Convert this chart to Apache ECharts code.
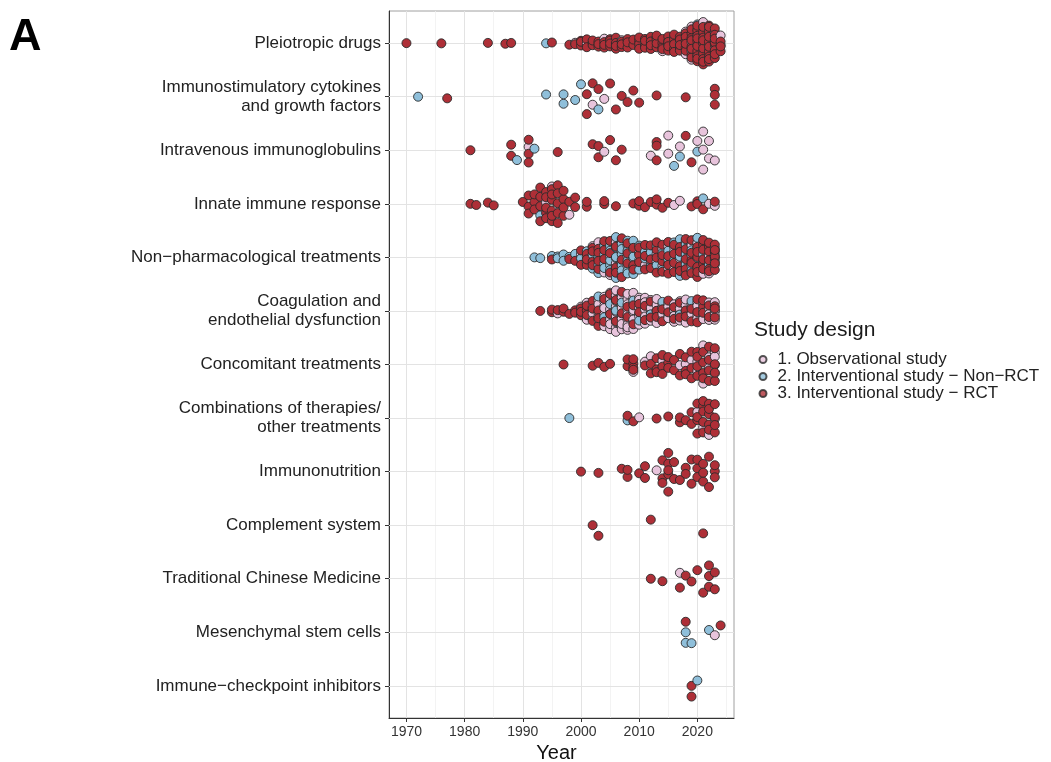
<!DOCTYPE html>
<html>
<head>
<meta charset="utf-8">
<script src="https://cdn.jsdelivr.net/npm/echarts@6/dist/echarts.min.js"></script>
<style>
  html, body { margin: 0; padding: 0; background: #ffffff; }
  #chart { width: 1051px; height: 762px; }
</style>
</head>
<body>
<div id="chart"></div>
<script>
// Intervention categories, top to bottom
const categories = [
  'Pleiotropic drugs',
  'Immunostimulatory cytokines\nand growth factors',
  'Intravenous immunoglobulins',
  'Innate immune response',
  'Non\u2212pharmacological treatments',
  'Coagulation and\nendothelial dysfunction',
  'Concomitant treatments',
  'Combinations of therapies/\nother treatments',
  'Immunonutrition',
  'Complement system',
  'Traditional Chinese Medicine',
  'Mesenchymal stem cells',
  'Immune\u2212checkpoint inhibitors'
];

const designNames = [
  '1. Observational study',
  '2. Interventional study \u2212 Non\u2212RCT',
  '3. Interventional study \u2212 RCT'
];
const designColors = ['#E8C4DC', '#8FBFDA', '#AE2F37'];

// Studies per publication year: [year, number of studies]
const pleiotropicDrugs = {
  obs: [[1999,1],[2001,1],[2004,1],[2007,1],[2010,1],[2011,1],[2013,1],[2014,1],[2015,2],[2016,1],[2017,1],[2018,2],[2019,3],[2020,4],[2021,6],[2022,5],[2023,5],[2024,2]],
  nonRct: [[1994,1],[2019,1],[2020,1]],
  rct: [[1970,1],[1976,1],[1984,1],[1987,1],[1988,1],[1995,1],[1998,1],[1999,1],[2000,3],[2001,2],[2002,3],[2003,3],[2004,3],[2005,4],[2006,4],[2007,3],[2008,3],[2009,2],[2010,4],[2011,4],[2012,5],[2013,4],[2014,4],[2015,4],[2016,5],[2017,5],[2018,6],[2019,8],[2020,10],[2021,10],[2022,10],[2023,8],[2024,3]]
};
const immunostimulatory = {
  obs: [[2002,1],[2004,1]],
  nonRct: [[1972,1],[1994,1],[1997,2],[1999,1],[2000,1],[2003,1]],
  rct: [[1977,1],[2001,2],[2002,1],[2003,1],[2005,1],[2006,1],[2007,1],[2008,1],[2009,1],[2010,1],[2013,1],[2018,1],[2023,3]]
};
const immunoglobulins = {
  obs: [[1991,1],[2004,1],[2012,1],[2015,2],[2017,1],[2020,1],[2021,3],[2022,2],[2023,1]],
  nonRct: [[1989,1],[1992,1],[2016,1],[2017,1],[2020,1]],
  rct: [[1981,1],[1988,2],[1991,3],[1996,1],[2002,1],[2003,2],[2005,1],[2006,1],[2007,1],[2013,3],[2018,1],[2019,1]]
};
const innateImmune = {
  obs: [[1994,1],[1995,1],[1996,1],[1998,1],[2016,1],[2017,1],[2022,1],[2023,1]],
  nonRct: [[1993,1],[2021,1]],
  rct: [[1981,1],[1982,1],[1984,1],[1985,1],[1990,1],[1991,3],[1992,3],[1993,4],[1994,5],[1995,6],[1996,5],[1997,4],[1998,1],[1999,2],[2001,2],[2004,2],[2006,1],[2009,1],[2010,2],[2011,1],[2012,1],[2013,2],[2014,1],[2015,1],[2019,1],[2020,2],[2021,1],[2023,1]]
};
const nonPharmacological = {
  obs: [[2000,1],[2001,1],[2002,1],[2003,2],[2004,2],[2005,2],[2006,2],[2007,2],[2008,2],[2009,1],[2010,2],[2011,1],[2012,2],[2013,2],[2014,3],[2015,3],[2016,3],[2017,3],[2018,3],[2019,3],[2020,3],[2021,3],[2022,2],[2023,3]],
  nonRct: [[1992,1],[1993,1],[1995,1],[1996,2],[1997,2],[1998,1],[1999,1],[2000,1],[2001,2],[2002,2],[2003,3],[2004,4],[2005,5],[2006,6],[2007,7],[2008,6],[2009,5],[2010,2],[2011,2],[2012,2],[2013,2],[2014,2],[2015,2],[2016,2],[2017,3],[2018,3],[2019,2],[2020,2],[2021,1],[2022,1],[2023,1]],
  rct: [[1995,1],[1998,1],[1999,1],[2000,2],[2001,3],[2002,4],[2003,4],[2004,3],[2005,3],[2006,3],[2007,3],[2008,3],[2009,3],[2010,3],[2011,3],[2012,3],[2013,4],[2014,4],[2015,4],[2016,4],[2017,4],[2018,5],[2019,5],[2020,6],[2021,6],[2022,6],[2023,7]]
};
const coagulation = {
  obs: [[1996,1],[2000,1],[2001,2],[2002,3],[2003,5],[2004,7],[2005,8],[2006,9],[2007,9],[2008,9],[2009,8],[2010,6],[2011,5],[2012,4],[2013,4],[2014,4],[2015,4],[2016,4],[2017,4],[2018,4],[2019,4],[2020,4],[2021,4],[2022,4],[2023,5]],
  nonRct: [[2003,1],[2004,1],[2005,1],[2006,1],[2007,1],[2009,1],[2010,1],[2012,1],[2014,1],[2017,1],[2019,1]],
  rct: [[1993,1],[1995,2],[1996,1],[1997,2],[1998,1],[1999,2],[2000,3],[2001,3],[2002,3],[2003,3],[2004,2],[2005,2],[2006,2],[2007,2],[2008,2],[2009,2],[2010,2],[2011,2],[2012,2],[2013,2],[2014,2],[2015,2],[2016,2],[2017,2],[2018,2],[2019,2],[2020,3],[2021,3],[2022,2],[2023,3]]
};
const concomitant = {
  obs: [[2009,1],[2011,1],[2012,1],[2014,1],[2017,1],[2018,1],[2019,1],[2020,2],[2021,2],[2022,2],[2023,4]],
  nonRct: [],
  rct: [[1997,1],[2002,1],[2003,1],[2004,1],[2005,1],[2008,2],[2009,4],[2011,1],[2012,2],[2013,3],[2014,3],[2015,3],[2016,2],[2017,2],[2018,3],[2019,3],[2020,4],[2021,4],[2022,4],[2023,4]]
};
const combinations = {
  obs: [[2010,1],[2020,1],[2021,1],[2022,1],[2023,1]],
  nonRct: [[1998,1],[2008,1]],
  rct: [[2008,1],[2009,1],[2013,1],[2015,1],[2017,2],[2018,1],[2019,2],[2020,4],[2021,5],[2022,5],[2023,4]]
};
const immunonutrition = {
  obs: [[2013,1]],
  nonRct: [],
  rct: [[2000,1],[2003,1],[2007,1],[2008,2],[2010,1],[2011,2],[2014,3],[2015,5],[2016,2],[2017,1],[2018,2],[2019,2],[2020,3],[2021,3],[2022,2],[2023,3]]
};
const complementSystem = {
  obs: [],
  nonRct: [],
  rct: [[2002,1],[2003,1],[2012,1],[2021,1]]
};
const chineseMedicine = {
  obs: [[2017,1]],
  nonRct: [],
  rct: [[2012,1],[2014,1],[2017,1],[2018,1],[2019,1],[2020,1],[2021,1],[2022,3],[2023,2]]
};
const stemCells = {
  obs: [[2023,1]],
  nonRct: [[2018,2],[2019,1],[2022,1]],
  rct: [[2018,1],[2024,1]]
};
const checkpointInhibitors = {
  obs: [],
  nonRct: [[2020,1]],
  rct: [[2019,2]]
};

const groups = [
  pleiotropicDrugs, immunostimulatory, immunoglobulins, innateImmune,
  nonPharmacological, coagulation, concomitant, combinations,
  immunonutrition, complementSystem, chineseMedicine, stemCells, checkpointInhibitors
];

const majorYears = [1970, 1980, 1990, 2000, 2010, 2020];
const minorYears = [1975, 1985, 1995, 2005, 2015, 2025];

// ---- quasirandom (van der Corput) spreading, scaled by a kernel density ----
function expand(pairs) {
  const out = [];
  pairs.forEach(([year, count]) => { for (let k = 0; k < count; k++) out.push(year); });
  return out;
}
function vanDerCorput(n) {
  const out = [];
  for (let i = 1; i <= n; i++) {
    let v = 0, d = 0.5, k = i;
    while (k > 0) { if (k & 1) v += d; k >>= 1; d /= 2; }
    out.push(v);
  }
  return out;
}
function quantile(sorted, p) {
  const h = (sorted.length - 1) * p;
  const lo = Math.floor(h);
  const hi = Math.min(lo + 1, sorted.length - 1);
  return sorted[lo] + (h - lo) * (sorted[hi] - sorted[lo]);
}
function bandwidthNrd0(x) {
  const n = x.length;
  const mean = x.reduce((a, b) => a + b, 0) / n;
  const sd = Math.sqrt(x.reduce((a, b) => a + (b - mean) * (b - mean), 0) / (n - 1));
  const s = x.slice().sort((a, b) => a - b);
  const iqr = quantile(s, 0.75) - quantile(s, 0.25);
  let lo = Math.min(sd, iqr / 1.34);
  if (!lo) lo = sd || Math.abs(x[0]) || 1;
  return 0.9 * lo * Math.pow(n, -0.2);
}
function relativeDensity(x, adjust) {
  const bw = adjust * bandwidthNrd0(x);
  const nGrid = 512;
  const from = Math.min(...x) - 3 * bw, to = Math.max(...x) + 3 * bw;
  const gx = [], gy = [];
  for (let j = 0; j < nGrid; j++) {
    const g = from + (to - from) * j / (nGrid - 1);
    let s = 0;
    x.forEach(v => { const z = (g - v) / bw; s += Math.exp(-0.5 * z * z); });
    gx.push(g); gy.push(s);
  }
  const mx = Math.max(...gy);
  return v => {
    let j = Math.floor((v - from) / (to - from) * (nGrid - 1));
    j = Math.max(0, Math.min(nGrid - 2, j));
    const t = (v - gx[j]) / (gx[j + 1] - gx[j]);
    return (gy[j] + t * (gy[j + 1] - gy[j])) / mx;
  };
}
function quasirandomOffsets(sortedYears, width) {
  const n = sortedYears.length;
  if (n < 2) return sortedYears.map(() => 0);
  const dens = relativeDensity(sortedYears, 0.5);
  const vdc = vanDerCorput(n);
  return sortedYears.map((y, i) => (vdc[i] - 0.5) * 2 * dens(y) * width);
}

// ---- build the points: one list, drawn in publication order ----
const designKeys = ['obs', 'nonRct', 'rct'];
const points = [];
groups.forEach((g, ci) => {
  const pts = [];
  designKeys.forEach((key, di) => expand(g[key]).forEach(year => pts.push({ year, design: di })));
  pts.sort((a, b) => a.year - b.year);
  const offs = quasirandomOffsets(pts.map(p => p.year), 0.4);
  pts.forEach((p, i) => points.push({
    value: [p.year, ci - offs[i]],
    itemStyle: { color: designColors[p.design] }
  }));
});

const FONT = '"Liberation Sans", Arial, sans-serif';
const catIndex = categories.map((_, i) => i);
const markerBorder = { borderColor: '#2A2A2A', borderWidth: 0.9 };

const chart = echarts.init(document.getElementById('chart'), null, { renderer: 'canvas' });

const gridLines = {
  type: 'scatter',
  data: [],
  silent: true,
  z: 1,
  markLine: {
    silent: true,
    z: 1,
    symbol: ['none', 'none'],
    label: { show: false },
    animation: false,
    lineStyle: { type: 'solid', color: '#E3E3E3', width: 1 },
    data: [
      ...minorYears.map(y => ({ xAxis: y, lineStyle: { color: '#F0F0F0', width: 0.8, type: 'solid' } })),
      ...majorYears.map(y => ({ xAxis: y })),
      ...catIndex.map(i => ({ yAxis: i }))
    ]
  }
};

// empty series that only carry the legend entries
const legendSeries = designNames.map((name, di) => ({
  name,
  type: 'scatter',
  symbol: 'circle',
  data: [],
  itemStyle: Object.assign({ color: designColors[di] }, markerBorder)
}));

const pointSeries = {
  type: 'scatter',
  z: 3,
  symbol: 'circle',
  symbolSize: 9,
  data: points,
  itemStyle: Object.assign({ opacity: 1 }, markerBorder),
  emphasis: { disabled: true }
};

chart.setOption({
  animation: false,
  backgroundColor: '#ffffff',
  grid: {
    left: 389, right: 317, top: 11, bottom: 44,
    outerBoundsMode: 'none',
    containLabel: false,
    show: true, borderColor: '#A0A0A0', borderWidth: 1, backgroundColor: 'transparent'
  },
  xAxis: {
    type: 'value',
    min: 1967,
    max: 2026.3,
    name: 'Year',
    nameLocation: 'middle',
    nameGap: 22,
    nameTextStyle: { fontSize: 20, color: '#111', fontFamily: FONT, padding: [0, 10, 0, 0] },
    axisLine: { show: true, onZero: false, lineStyle: { color: '#333', width: 1 } },
    axisTick: { show: true, length: 4, customValues: majorYears, lineStyle: { color: '#333' } },
    axisLabel: {
      customValues: majorYears,
      formatter: v => String(Math.round(v)),
      fontSize: 14, color: '#333', fontFamily: FONT, margin: 7
    },
    splitLine: { show: false }
  },
  yAxis: {
    type: 'value',
    min: -0.6,
    max: 12.6,
    inverse: true,
    axisLine: { show: true, onZero: false, lineStyle: { color: '#333', width: 1 } },
    axisTick: { show: true, length: 4, customValues: catIndex, lineStyle: { color: '#333' } },
    axisLabel: {
      customValues: catIndex,
      formatter: v => categories[Math.round(v)] || '',
      fontSize: 17, lineHeight: 19, color: '#222', fontFamily: FONT, margin: 8
    },
    splitLine: { show: false }
  },
  legend: {
    orient: 'vertical',
    left: 758.5,
    top: 351,
    padding: 0,
    itemWidth: 7,
    itemHeight: 7,
    itemGap: 0,
    selectedMode: false,
    data: designNames,
    textStyle: { fontSize: 17, lineHeight: 15, color: '#222', fontFamily: FONT, padding: [0, 0, 0, 6] }
  },
  graphic: [
    { type: 'text', left: 9, top: 15, style: { text: 'A', font: 'bold 45px ' + FONT, fill: '#000' } },
    { type: 'text', left: 754, top: 320, style: { text: 'Study design', font: '21px ' + FONT, fill: '#1a1a1a' } }
  ],
  series: [gridLines, pointSeries, ...legendSeries]
});
</script>
</body>
</html>
